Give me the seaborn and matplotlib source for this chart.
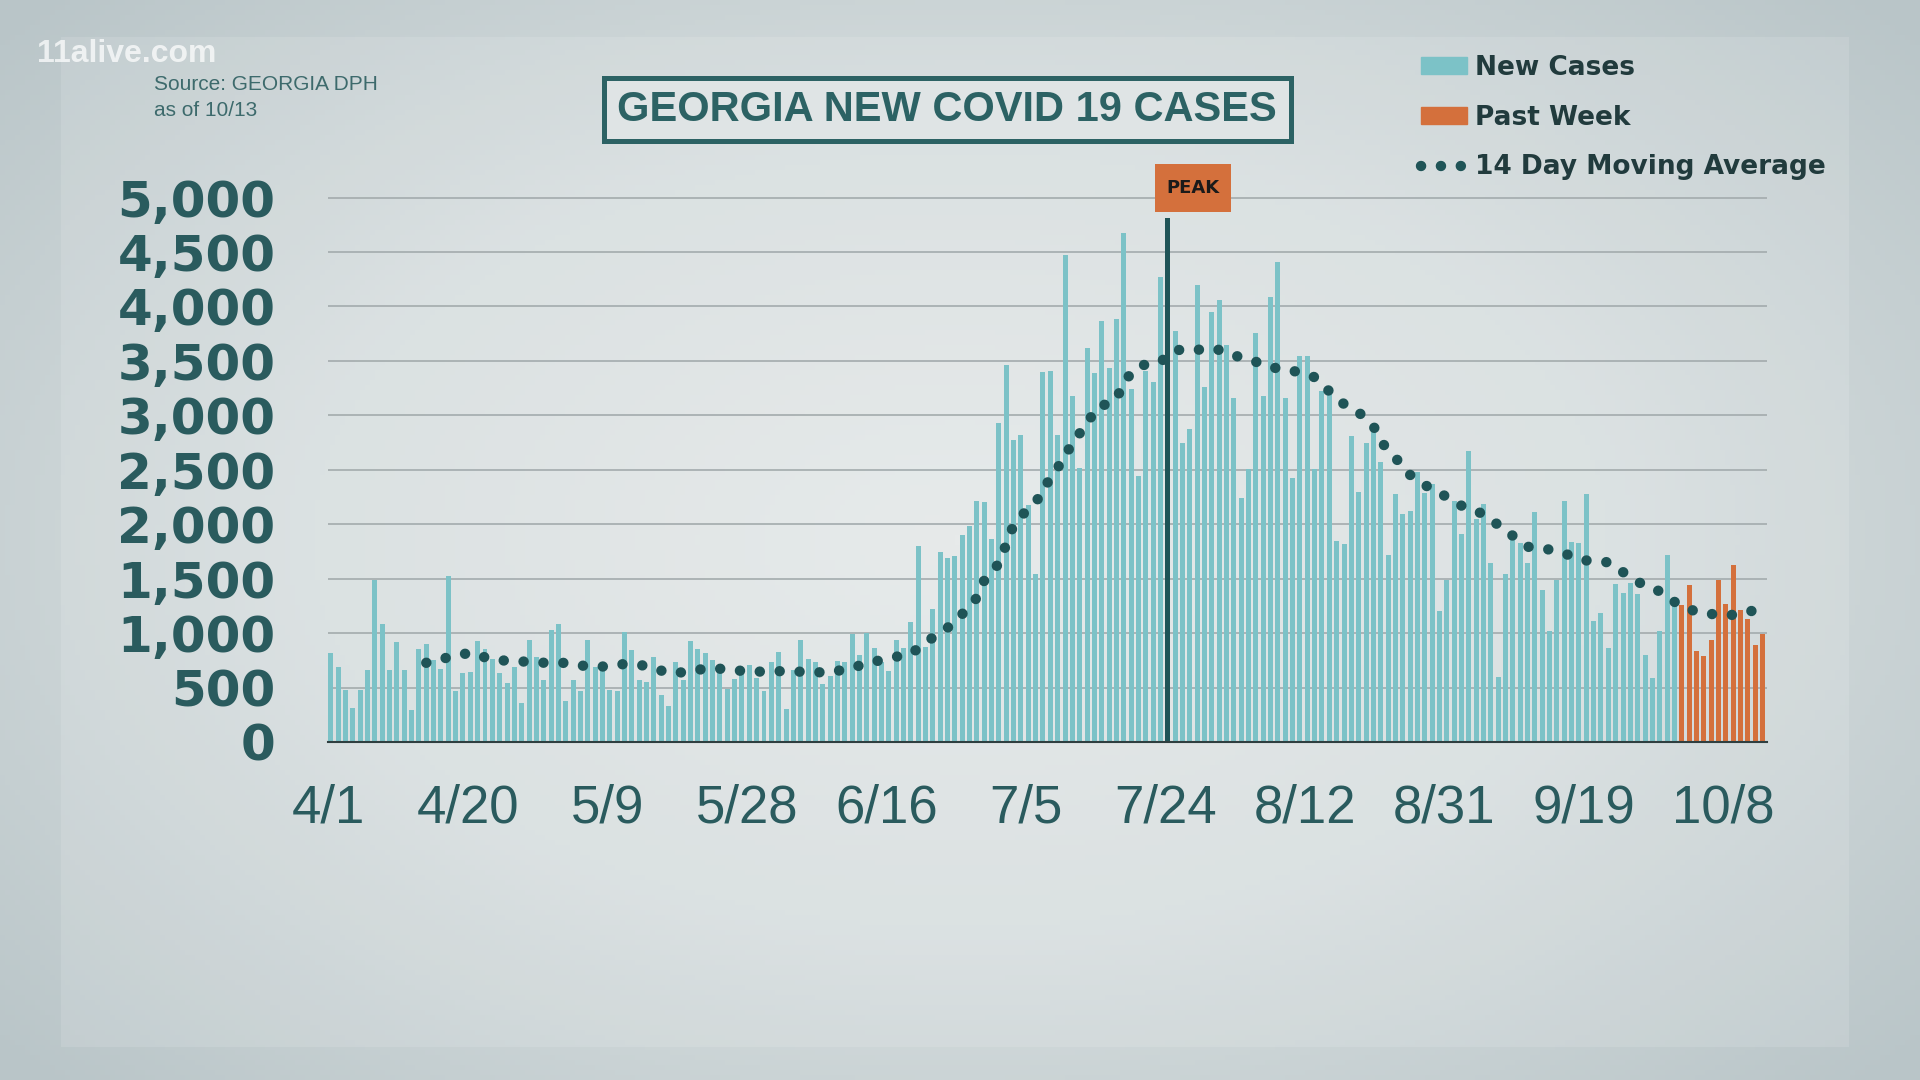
import matplotlib
matplotlib.use("Agg")
import matplotlib.pyplot as plt
from matplotlib import font_manager
from matplotlib.patches import Patch, Rectangle
from matplotlib.lines import Line2D
from matplotlib.colors import LinearSegmentedColormap
import seaborn as sns
import numpy as np
import pandas as pd

# Datos: casos nuevos diarios en Georgia, 4/1 .. 10/13
start_date = "2020-04-01"
cases = [
    820, 690, 480, 310, 480, 660, 1490, 1080, 660, 920,
    660, 290, 850, 900, 750, 670, 1520, 470, 630, 640,
    930, 850, 760, 630, 540, 690, 360, 940, 780, 570,
    1030, 1080, 380, 570, 470, 940, 690, 680, 480, 470,
    1010, 840, 570, 550, 780, 430, 330, 730, 570, 930,
    850, 820, 750, 650, 490, 580, 650, 710, 590, 470,
    730, 830, 300, 660, 940, 760, 730, 530, 610, 740,
    730, 990, 800, 1000, 860, 730, 650, 940, 865, 1100,
    1800, 870, 1220, 1745, 1690, 1710, 1900, 1985, 2210, 2200,
    1860, 2930, 3460, 2775, 2815, 2180, 1545, 3395, 3410, 2820,
    4475, 3180, 2520, 3620, 3385, 3865, 3430, 3885, 4675, 3240,
    2445, 3410, 3310, 4270, 4810, 3775, 2745, 2875, 4200, 3260,
    3950, 4055, 3645, 3155, 2245, 2510, 3760, 3180, 4085, 4410,
    3160, 2420, 3545, 3545, 2505, 3225, 3215, 1845, 1820, 2810,
    2295, 2745, 2865, 2575, 1720, 2275, 2095, 2120, 2475, 2285,
    2370, 1200, 1485, 2215, 1910, 2670, 2050, 2185, 1645, 600,
    1545, 1860, 1825, 1645, 2110, 1395, 1015, 1485, 2210, 1835,
    1825, 2275, 1115, 1185, 860, 1450, 1365, 1460, 1360, 800,
    585, 1015, 1715, 1275, 1260, 1445, 835, 785, 935, 1485,
    1265, 1625, 1215, 1125, 895, 995,
]
past_week_start = "2020-10-02"
peak_date = "2020-07-24"

ma_days = [13, 16, 19, 21, 24, 27, 30, 32, 35, 38, 40, 43, 46, 49, 51, 54, 57,
           60, 62, 65, 68, 71, 74, 76, 79, 81, 84, 86, 88, 89, 91, 92, 93, 95,
           97, 98, 100, 101, 103, 104, 107, 108, 110, 113, 115, 117, 120, 122,
           124, 127, 129, 131, 134, 136, 138, 140, 142, 143, 145, 147, 149,
           152, 154, 157, 159, 161, 163, 166, 169, 171, 174, 176, 178, 181,
           183, 186, 189, 191, 194]
ma_values = [727, 777, 820, 777, 743, 737, 723, 727, 693, 693, 717, 700, 633,
             643, 677, 670, 643, 650, 650, 643, 637, 683, 737, 770, 808, 914,
             1048, 1175, 1325, 1483, 1640, 1817, 1994, 2145, 2278, 2445, 2600,
             2770, 2900, 3057, 3143, 3310, 3453, 3490, 3603, 3593, 3617, 3583,
             3527, 3473, 3427, 3410, 3350, 3220, 3103, 3027, 2903, 2760, 2610,
             2453, 2360, 2250, 2170, 2093, 1993, 1893, 1793, 1767, 1710, 1667,
             1650, 1560, 1470, 1383, 1287, 1193, 1167, 1167, 1210]

tick_labels = ["4/1", "4/20", "5/9", "5/28", "6/16", "7/5", "7/24",
               "8/12", "8/31", "9/19", "10/8"]
y_ticks = list(range(0, 5001, 500))

TEAL = "#7cc2c7"
ORANGE = "#d4703c"
DARK = "#1f5457"
TEXT = "#2a5b5e"
DOTS = (0, (0.01, 1.9))

installed = {f.name for f in font_manager.fontManager.ttflist}
NARROW = "Liberation Sans Narrow" if "Liberation Sans Narrow" in installed else None

# Tabla para seaborn
dates = pd.date_range(start_date, periods=len(cases))
df = pd.DataFrame({"day": np.arange(len(cases)), "cases": cases})
df["group"] = "New Cases"
df.loc[dates >= pd.Timestamp(past_week_start), "group"] = "Past Week"
df.loc[dates == pd.Timestamp(peak_date), "group"] = "Peak"
peak_x = int(np.where(dates == pd.Timestamp(peak_date))[0][0])
tick_pos = [i for i, d in enumerate(dates) if f"{d.month}/{d.day}" in tick_labels]

sns.set_style("white")
fig = plt.figure(figsize=(19.2, 10.8), dpi=100)

# Fondo con degradado suave
bg = fig.add_axes([0, 0, 1, 1], zorder=-10)
bg.axis("off")
yy, xx = np.mgrid[0:1:216j, 0:1:384j]
r = np.sqrt(((xx - 0.5) / 0.75) ** 2 + ((yy - 0.5) / 0.8) ** 2)
cmap = LinearSegmentedColormap.from_list("bg", ["#e4e8e8", "#d7dedf", "#b9c5c8"])
bg.imshow(r, cmap=cmap, extent=[0, 1, 0, 1], aspect="auto", vmin=0, vmax=0.9)
bg.add_patch(Rectangle((0.032, 0.031), 0.931, 0.935, facecolor="white",
                       alpha=0.12, edgecolor="none"))
bg.set_xlim(0, 1)
bg.set_ylim(0, 1)

ax = fig.add_axes([0.1710, 0.3130, 0.7495, 0.5056])
ax.patch.set_alpha(0)

sns.barplot(data=df, x="day", y="cases", hue="group", native_scale=True,
            palette={"New Cases": TEAL, "Past Week": ORANGE, "Peak": DARK},
            dodge=False, width=0.68, errorbar=None, legend=False,
            saturation=1, ax=ax, zorder=2, edgecolor="none", linewidth=0)
sns.lineplot(x=ma_days, y=ma_values, ax=ax, color=DARK, linewidth=7.5,
             linestyle=DOTS, dash_capstyle="round", zorder=4)

ax.set_xlim(-0.34, len(cases) - 0.34)
ax.set_ylim(0, 5015)
ax.set_yticks(y_ticks)
ax.set_yticklabels([f"{v:,}" for v in y_ticks], fontsize=36,
                   fontweight="bold", color=TEXT)
ax.yaxis.grid(True, color="#a3abad", linewidth=1.2)
ax.set_axisbelow(True)
ax.tick_params(axis="y", length=0, pad=38)

ax.set_xticks([p - 0.34 for p in tick_pos])
xfam = [NARROW] if NARROW else ["Liberation Sans"]
ax.set_xticklabels(tick_labels, fontsize=44 if NARROW else 38,
                   color=TEXT, family=xfam)
ax.tick_params(axis="x", direction="out", length=8, width=1.5,
               color="#2f3f40", pad=22)
ax.set_xlabel("")
ax.set_ylabel("")
for s in ["top", "right", "left"]:
    ax.spines[s].set_visible(False)
ax.spines["bottom"].set_color("#2f3f40")
ax.spines["bottom"].set_linewidth(1.5)

# Cuadro PEAK
ax.add_patch(Rectangle((peak_x - 1.8, 4870), 10.46, 440, facecolor=ORANGE,
                       edgecolor="none", clip_on=False, zorder=5))
ax.text(peak_x - 1.8 + 5.23, 5090, "PEAK", ha="center", va="center",
        fontsize=13, fontweight="bold", color="#1a1a1a", clip_on=False,
        zorder=6, family=[NARROW] if NARROW else ["DejaVu Sans"])

# Titulo en recuadro
fig.add_artist(Rectangle((0.3146, 0.8694), 0.3578, 0.0583, transform=fig.transFigure,
                         facecolor="#dfe4e5", edgecolor="#2c6264", linewidth=3.6))
if NARROW:
    fig.text(0.4932, 0.8986, "GEORGIA NEW COVID 19 CASES", ha="center", va="center",
             fontsize=36, fontweight="bold", color="#2c6264", family=[NARROW])
else:
    fig.text(0.4932, 0.8986, "GEORGIA NEW COVID 19 CASES", ha="center", va="center",
             fontsize=30, fontweight="bold", color="#2c6264", family=["Liberation Sans"])

# Textos de cabecera
fig.text(37 / 1920, 1 - 54 / 1080, "11alive.com", ha="left", va="center",
         fontsize=23, fontweight="bold", color="white", alpha=0.72,
         family=["Liberation Sans"])
fig.text(154 / 1920, 1 - 85 / 1080, "Source: GEORGIA DPH", ha="left", va="center",
         fontsize=15, color="#3d6a6c", family=["Liberation Sans"])
fig.text(154 / 1920, 1 - 111 / 1080, "as of 10/13", ha="left", va="center",
         fontsize=15, color="#3d6a6c", family=["Liberation Sans"])

# Leyenda
handles = [Patch(color=TEAL), Patch(color=ORANGE),
           Line2D([], [], color=DARK, linewidth=7.5, linestyle=DOTS,
                  dash_capstyle="round")]
fig.legend(handles, ["New Cases", "Past Week", "14 Day Moving Average"],
           loc="upper left", bbox_to_anchor=(1421 / 1920, 1 - 55 / 1080),
           frameon=False, prop={"weight": "bold", "size": 19},
           labelcolor="#213b3d", handlelength=1.75, handleheight=0.6,
           handletextpad=0.3, labelspacing=0.9, borderpad=0, borderaxespad=0)

fig.savefig("out.png", dpi=100)
